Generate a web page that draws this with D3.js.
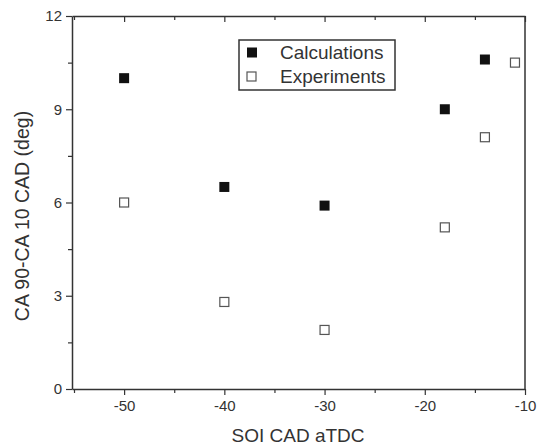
<!DOCTYPE html>
<html>
<head>
<meta charset="utf-8">
<script src="https://cdn.jsdelivr.net/npm/d3@7"></script>
<style>
  body { margin: 0; background: #fff; }
  text { font-family: "Liberation Sans", Arial, sans-serif; fill: #333; }
</style>
</head>
<body>
<div id="chart"></div>
<script>
// data
var calcSOI = [-50, -40, -30, -18, -14];
var calcDur = [10.0, 6.5, 5.9, 9.0, 10.6];
var expSOI = [-50, -40, -30, -18, -14, -11];
var expDur = [6.0, 2.8, 1.9, 5.2, 8.1, 10.5];
var xTicks = [-50, -40, -30, -20, -10];
var yTicks = [0, 3, 6, 9, 12];
var seriesNames = ["Calculations", "Experiments"];

var width = 537, height = 447;
var margin = { top: 16, right: 12, bottom: 58, left: 72 };

var svg = d3.select("#chart").append("svg")
    .attr("width", width)
    .attr("height", height);

var x = d3.scaleLinear().domain([-55.2, -10]).range([margin.left, width - margin.right]);
var y = d3.scaleLinear().domain([0, 12]).range([height - margin.bottom, margin.top]);

var axisColor = "#333";
var plain = function(d) { return String(d); };   // hyphen, not unicode minus

var xMinor = d3.range(-55, -9, 5).filter(function(v) { return xTicks.indexOf(v) < 0; });
var yMinor = d3.range(1.5, 12, 3);

// bottom axis
svg.append("g")
    .attr("transform", "translate(0," + y(0) + ")")
    .call(d3.axisBottom(x).tickValues(xTicks).tickSize(6).tickSizeOuter(0).tickPadding(5).tickFormat(plain));
svg.append("g")
    .attr("transform", "translate(0," + y(0) + ")")
    .call(d3.axisBottom(x).tickValues(xMinor).tickSize(4).tickFormat(""))
    .select(".domain").remove();

// top axis, ticks inside
svg.append("g")
    .attr("transform", "translate(0," + y(12) + ")")
    .call(d3.axisBottom(x).tickValues(xTicks).tickSize(6).tickSizeOuter(0).tickFormat(""));
svg.append("g")
    .attr("transform", "translate(0," + y(12) + ")")
    .call(d3.axisBottom(x).tickValues(xMinor).tickSize(4).tickFormat(""))
    .select(".domain").remove();

// left axis
svg.append("g")
    .attr("transform", "translate(" + x.range()[0] + ",0)")
    .call(d3.axisLeft(y).tickValues(yTicks).tickSize(6).tickSizeOuter(0).tickPadding(4).tickFormat(plain));
svg.append("g")
    .attr("transform", "translate(" + x.range()[0] + ",0)")
    .call(d3.axisLeft(y).tickValues(yMinor).tickSize(4).tickFormat(""))
    .select(".domain").remove();

// right border
svg.append("line")
    .attr("x1", x.range()[1]).attr("x2", x.range()[1])
    .attr("y1", y(0)).attr("y2", y(12))
    .attr("stroke", axisColor).attr("stroke-width", 1.5);

svg.selectAll(".domain").attr("stroke", axisColor).attr("stroke-width", 1.5);
svg.selectAll(".tick line").attr("stroke", axisColor).attr("stroke-width", 1.2);
svg.selectAll(".tick text").style("font-size", "15px").attr("fill", "#333");

// axis titles
svg.append("text")
    .attr("x", 298)
    .attr("y", 442)
    .attr("text-anchor", "middle")
    .style("font-size", "19px")
    .text("SOI CAD aTDC");

svg.append("text")
    .attr("transform", "translate(29,216) rotate(-90)")
    .attr("text-anchor", "middle")
    .style("font-size", "19.5px")
    .text("CA 90-CA 10 CAD (deg)");

// markers
var calc = calcSOI.map(function(d, i) { return { x: d, y: calcDur[i] }; });
var exp = expSOI.map(function(d, i) { return { x: d, y: expDur[i] }; });

var sFill = 10, sOpen = 10;

svg.selectAll(".calc")
    .data(calc)
  .enter().append("rect")
    .attr("class", "calc")
    .attr("x", function(d) { return x(d.x) - sFill / 2; })
    .attr("y", function(d) { return y(d.y) - sFill / 2; })
    .attr("width", sFill).attr("height", sFill)
    .attr("fill", "#111");

svg.selectAll(".exp")
    .data(exp)
  .enter().append("rect")
    .attr("class", "exp")
    .attr("x", function(d) { return x(d.x) - (sOpen - 1) / 2; })
    .attr("y", function(d) { return y(d.y) - (sOpen - 1) / 2; })
    .attr("width", sOpen - 1).attr("height", sOpen - 1)
    .attr("fill", "#fff")
    .attr("stroke", "#555")
    .attr("stroke-width", 1.2);

// legend
var legend = svg.append("g").attr("transform", "translate(239,40)");
legend.append("rect")
    .attr("width", 156).attr("height", 50)
    .attr("fill", "#fff").attr("stroke", axisColor).attr("stroke-width", 1.5);

var items = legend.selectAll(".item")
    .data(seriesNames)
  .enter().append("g")
    .attr("class", "item")
    .attr("transform", function(d, i) { return "translate(0," + (12.5 + i * 24.5) + ")"; });

items.append("rect")
    .attr("x", 13 - sFill / 2)
    .attr("y", -sFill / 2)
    .attr("width", function(d, i) { return i ? sOpen - 1 : sFill; })
    .attr("height", function(d, i) { return i ? sOpen - 1 : sFill; })
    .attr("fill", function(d, i) { return i ? "#fff" : "#111"; })
    .attr("stroke", function(d, i) { return i ? "#555" : "none"; })
    .attr("stroke-width", 1.2);

items.append("text")
    .attr("x", 41)
    .attr("y", 6)
    .style("font-size", "19px")
    .text(function(d) { return d; });
</script>
</body>
</html>
